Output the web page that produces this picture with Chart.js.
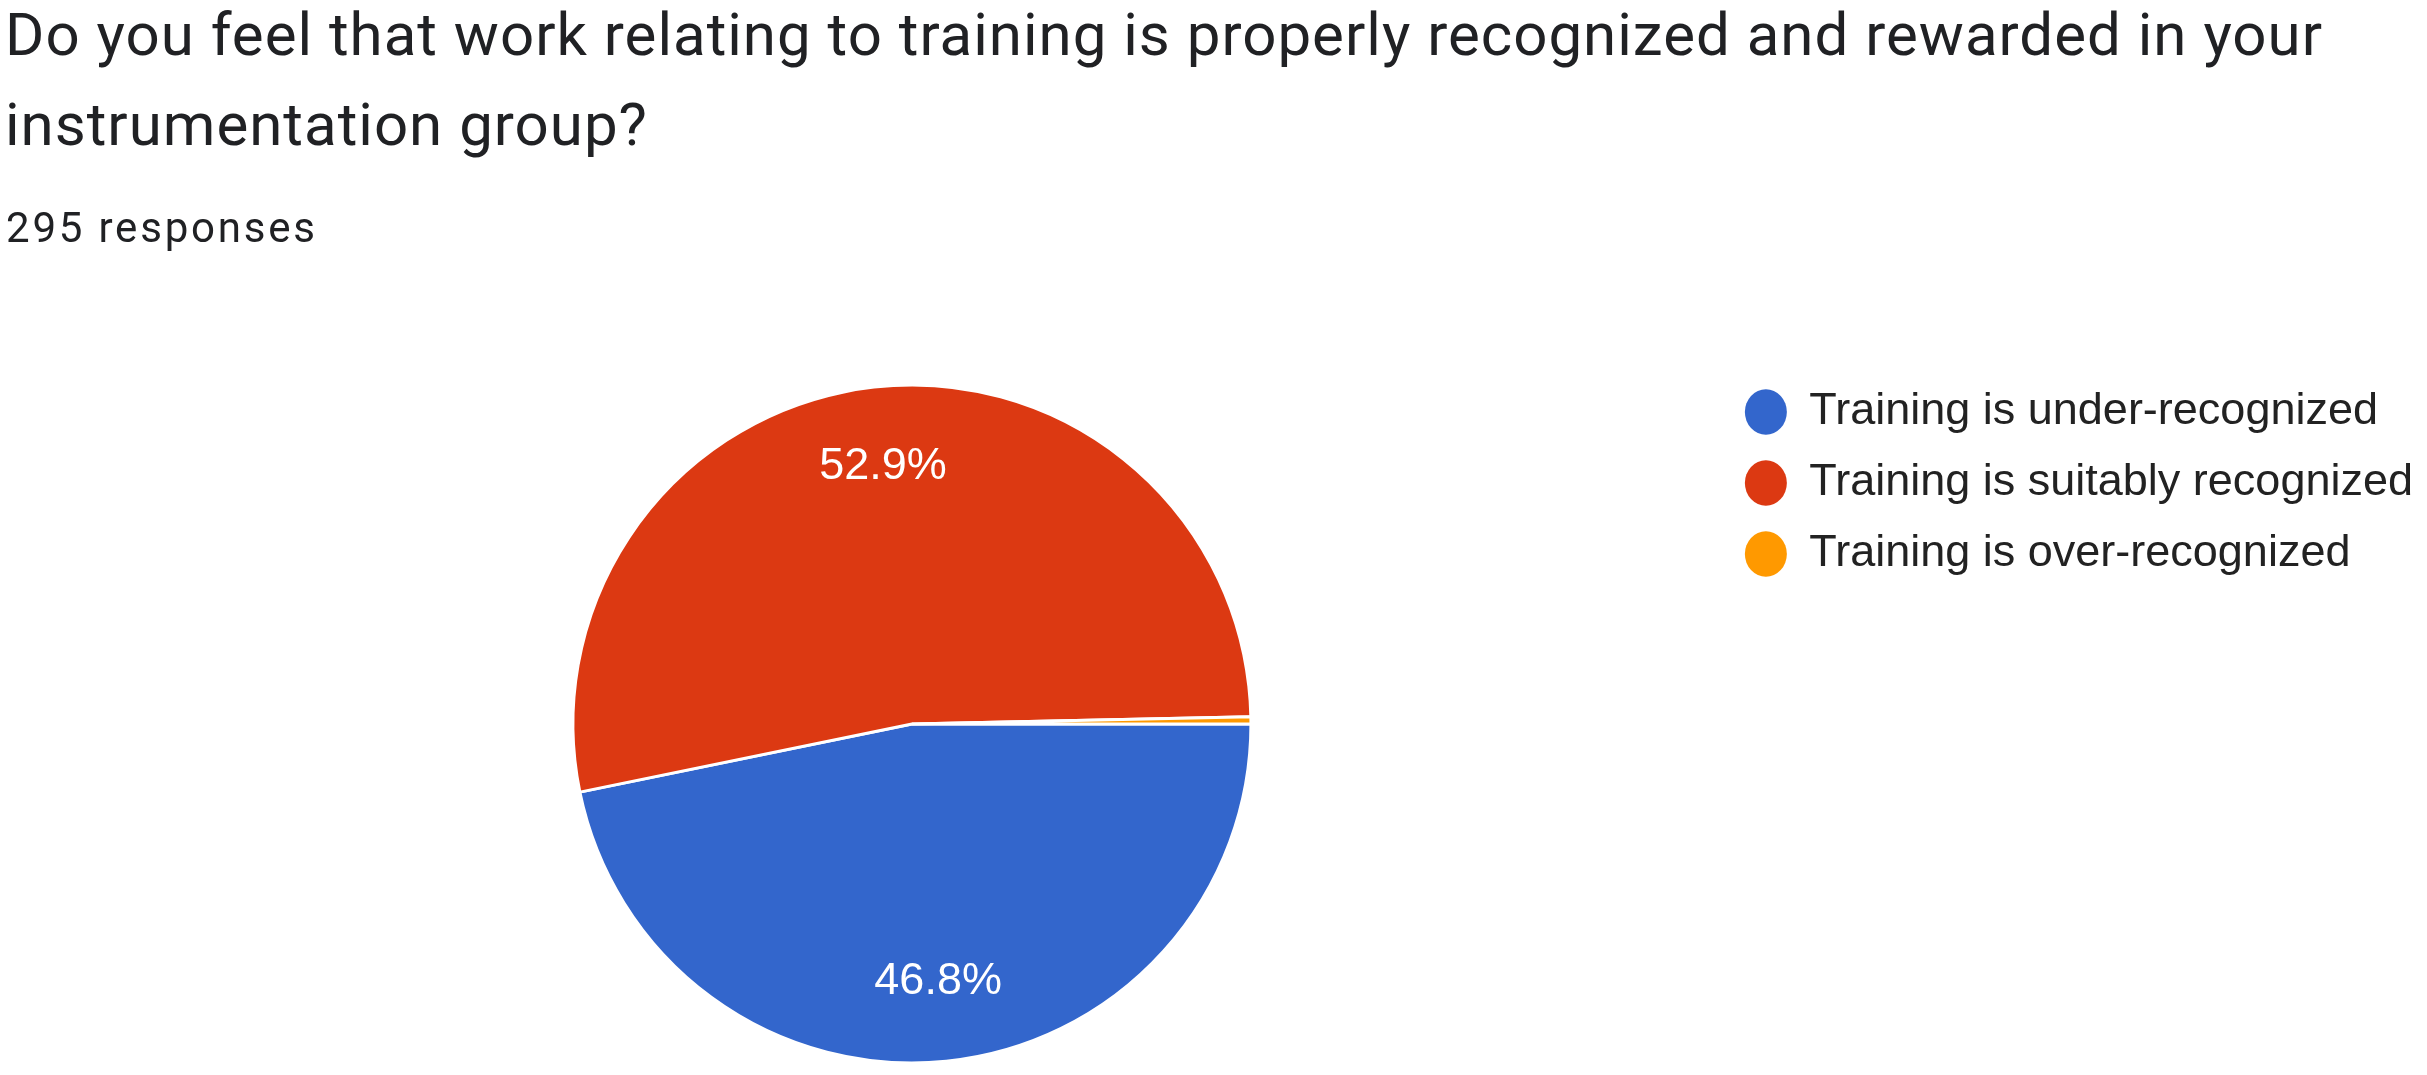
<!DOCTYPE html>
<html>
<head>
<meta charset="utf-8">
<script src="https://cdn.jsdelivr.net/npm/chart.js@4.4.1/dist/chart.umd.min.js"></script>
<style>
  html, body { margin:0; padding:0; background:#ffffff; width:2427px; height:1075px; overflow:hidden; }
  .txt { position:absolute; left:0; top:0; white-space:nowrap; color:#202124; font-family:Roboto, "Noto Sans", sans-serif; }
  .title { font-size:60px; line-height:60px; }
  .sub { font-size:42px; line-height:42px; }
  #wrap { position:absolute; left:0; top:0; width:2427px; height:1100px; }
</style>
</head>
<body>
<div id="wrap"><canvas id="c"></canvas></div>
<div id="t1" class="txt title"></div>
<div id="t2" class="txt title"></div>
<div id="sub" class="txt sub"></div>
<script>
// ---- data ----
const questionLines = [
  "Do you feel that work relating to training is properly recognized and rewarded in your",
  "instrumentation group?"
];
const responseCount = 295;
const responseLabel = "responses";
const categories = [
  "Training is under-recognized",
  "Training is suitably recognized",
  "Training is over-recognized"
];
const responses = [138, 156, 1];

// ---- header text (real HTML text) ----
function placeText(el, text, left, baseline, targetRight, spacingOverride) {
  el.textContent = '';
  const span = document.createElement('span');
  span.textContent = text;
  const mark = document.createElement('span');
  mark.style.cssText = 'display:inline-block;width:0;height:0;vertical-align:baseline;';
  el.appendChild(span);
  el.appendChild(mark);
  el.style.left = left + 'px';
  let ls = spacingOverride;
  if (ls === undefined) {
    const w = span.getBoundingClientRect().width;
    ls = (targetRight - left - w) / Math.max(text.length - 1, 1);
  }
  span.style.letterSpacing = ls + 'px';
  const b = mark.getBoundingClientRect().top;
  el.style.top = (baseline - b) + 'px';
  return ls;
}
const t1 = document.getElementById('t1');
const t2 = document.getElementById('t2');
const sub = document.getElementById('sub');
const ls1 = placeText(t1, questionLines[0], 5, 55, 2322);
placeText(t2, questionLines[1], 5, 145, 0, ls1);
placeText(sub, responseCount + " " + responseLabel, 6, 242, 315);

// ---- slice percentage labels ----
const sliceLabels = {
  id: 'sliceLabels',
  afterDatasetsDraw(chart) {
    const meta = chart.getDatasetMeta(0);
    const values = chart.data.datasets[0].data;
    const total = values.reduce((a, b) => a + b, 0);
    const ctx = chart.ctx;
    ctx.save();
    ctx.font = '45px "Liberation Sans", Arial, sans-serif';
    ctx.fillStyle = '#ffffff';
    ctx.textAlign = 'center';
    ctx.textBaseline = 'middle';
    meta.data.forEach((arc, i) => {
      const pct = values[i] / total * 100;
      if (pct < 5) return;
      const p = arc.getProps(['startAngle', 'endAngle', 'outerRadius', 'x', 'y'], true);
      const mid = (p.startAngle + p.endAngle) / 2;
      const r = p.outerRadius * 0.765;
      ctx.fillText(pct.toFixed(1) + '%', p.x + Math.cos(mid) * r, p.y + Math.sin(mid) * r);
    });
    ctx.restore();
  }
};

const baseGen = (Chart.overrides.doughnut || Chart.overrides.pie).plugins.legend.labels.generateLabels;

new Chart(document.getElementById('c'), {
  type: 'pie',
  data: {
    labels: categories,
    datasets: [{
      data: responses,
      backgroundColor: ['#3366cc', '#dc3912', '#ff9900'],
      borderColor: '#ffffff',
      borderWidth: 3,
      radius: 339
    }]
  },
  options: {
    responsive: true,
    maintainAspectRatio: false,
    animation: false,
    rotation: 90,
    layout: { padding: { left: 105, right: 4, top: 363.5, bottom: 15.5 } },
    plugins: {
      legend: {
        position: 'right',
        align: 'start',
        labels: {
          usePointStyle: true,
          pointStyle: 'circle',
          boxHeight: 32,
          pointStyleWidth: 42,
          padding: 26,
          color: '#222222',
          font: { family: '"Liberation Sans", Arial, sans-serif', size: 45 },
          generateLabels(chart) {
            return baseGen(chart).map(l => Object.assign(l, { lineWidth: 0, strokeStyle: l.fillStyle }));
          }
        }
      },
      tooltip: { enabled: false }
    }
  },
  plugins: [sliceLabels]
});
</script>
</body>
</html>
